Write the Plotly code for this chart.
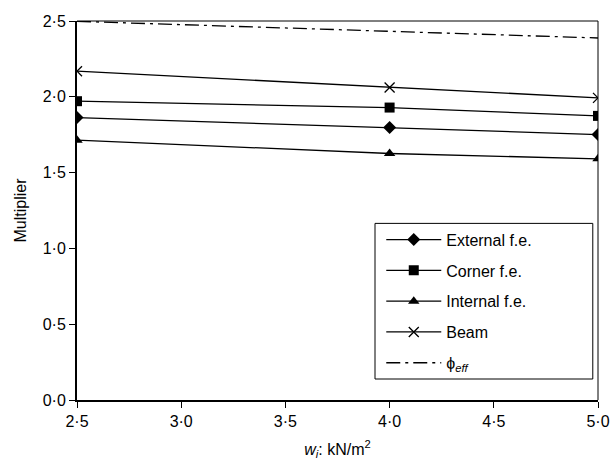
import plotly.graph_objects as go

x_vals = [2.5, 4.0, 5.0]
external_fe = [1.863, 1.798, 1.751]
corner_fe = [1.971, 1.929, 1.874]
internal_fe = [1.714, 1.626, 1.591]
beam = [2.169, 2.061, 1.993]
phi_eff = [2.498, 2.432, 2.388]

x_ticks = [2.5, 3.0, 3.5, 4.0, 4.5, 5.0]
x_ticklabels = ["2·5", "3·0", "3·5", "4·0", "4·5", "5·0"]
y_ticks = [0.0, 0.5, 1.0, 1.5, 2.0, 2.5]
y_ticklabels = ["0·0", "0·5", "1·0", "1·5", "2·0", "2·5"]

font = "Liberation Sans, Arial, sans-serif"
line_style = dict(color="black", width=1.3)
fig = go.Figure()
fig.add_trace(go.Scatter(x=x_vals, y=external_fe, name="External f.e.", mode="lines+markers",
                         legendgroup="a", line=line_style,
                         marker=dict(symbol="diamond", size=10, color="black")))
fig.add_trace(go.Scatter(x=x_vals, y=corner_fe, name="Corner f.e.", mode="lines+markers",
                         legendgroup="b", line=line_style,
                         marker=dict(symbol="square", size=10, color="black")))
fig.add_trace(go.Scatter(x=x_vals, y=internal_fe, name="Internal f.e.", mode="lines+markers",
                         legendgroup="c", line=line_style,
                         marker=dict(symbol="triangle-up", size=10, color="black")))
fig.add_trace(go.Scatter(x=x_vals, y=beam, name="Beam", mode="lines+markers",
                         legendgroup="d", line=line_style,
                         marker=dict(symbol="x-thin-open", size=10, color="black",
                                     line=dict(color="black", width=1.3))))
fig.add_trace(go.Scatter(x=x_vals, y=phi_eff, name="ϕ<sub><i>eff</i></sub>", mode="lines",
                         legendgroup="e",
                         line=dict(color="black", width=1.3, dash="14px,5px,3px,5px")))

fig.update_layout(
    width=613, height=460,
    margin=dict(l=77, r=15, t=21, b=60),
    paper_bgcolor="white", plot_bgcolor="white",
    font=dict(family=font, size=16, color="black"),
    showlegend=True,
    legend=dict(x=0.584, y=0.468, xanchor="left", yanchor="top",
                borderwidth=0, bgcolor="rgba(0,0,0,0)",
                font=dict(size=16), tracegroupgap=7, itemwidth=55),
    xaxis=dict(range=[2.5, 5.0], tickvals=x_ticks, ticktext=x_ticklabels,
               tickfont=dict(size=16), automargin=False,
               showgrid=False, zeroline=False, showline=True, linecolor="black",
               linewidth=1.5, mirror=False, ticks="outside", ticklen=6, tickcolor="black",
               title=dict(text="<i>w<sub>i</sub></i>: kN/m<sup>2</sup>", standoff=16,
                          font=dict(size=16))),
    yaxis=dict(range=[0.0, 2.5], tickvals=y_ticks, ticktext=y_ticklabels,
               tickfont=dict(size=16), automargin=False,
               showgrid=False, zeroline=False, showline=True, linecolor="black",
               linewidth=2, mirror=False, ticks="outside", ticklen=6, tickcolor="black",
               title=dict(text="Multiplier", standoff=12, font=dict(size=16))),
    shapes=[
        dict(type="line", xref="paper", yref="paper", x0=1, x1=1, y0=0, y1=1,
             line=dict(color="black", width=1)),
        dict(type="line", xref="paper", yref="paper", x0=0, x1=1, y0=1, y1=1,
             line=dict(color="black", width=1)),
        dict(type="rect", xref="paper", yref="paper", x0=0.572, x1=0.990,
             y0=0.0554, y1=0.466, line=dict(color="black", width=1)),
    ],
)

fig.write_html("out.html")
